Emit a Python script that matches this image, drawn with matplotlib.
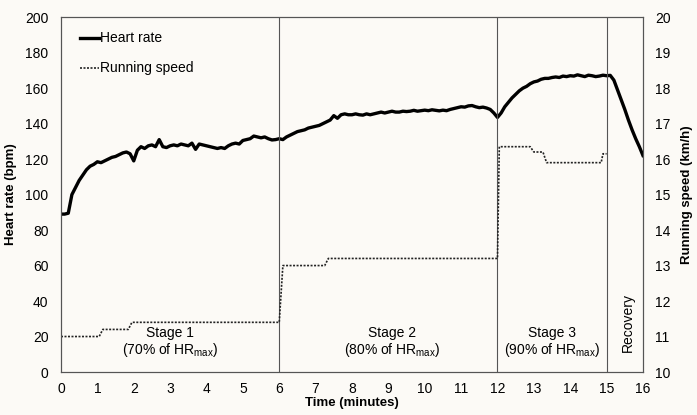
import matplotlib
matplotlib.use("Agg")
import matplotlib.pyplot as plt

plt.rcParams['font.family'] = ['Liberation Sans', 'DejaVu Sans']
plt.rcParams['mathtext.fontset'] = 'custom'
plt.rcParams['mathtext.rm'] = 'Liberation Sans'
plt.rcParams['mathtext.it'] = 'Liberation Sans:italic'

# heart rate sampled every 0.1 min (bpm)
hr_time = [round(i * 0.1, 1) for i in range(161)]
heart_rate = [
    89, 89, 89.5, 100, 104, 108, 111, 114, 116, 117,
    118.5, 118, 119, 120, 121, 121.5, 122.5, 123.5, 124, 123,
    119, 125, 127, 126, 127.5, 128, 127, 131, 127, 126.5,
    127.5, 128, 127.5, 128.5, 128, 127.5, 129, 125.5, 128.5, 128,
    127.5, 127, 126.5, 126, 126.5, 126, 127.5, 128.5, 129, 128.5,
    130.5, 131, 131.5, 133, 132.5, 132, 132.5, 131.5, 130.8, 131,
    131.5, 131, 132.5, 133.5, 134.5, 135.5, 136, 136.5, 137.5, 138,
    138.5, 139, 140, 141, 142, 144.5, 143, 145, 145.5, 145,
    145, 145.5, 145, 144.8, 145.5, 145, 145.5, 146, 146.5, 146,
    146.5, 147, 146.5, 146.5, 147, 146.8, 147, 147.5, 147, 147.3,
    147.6, 147.3, 147.8, 147.5, 147.2, 147.6, 147.3, 148, 148.5, 149,
    149.5, 149.3, 150, 150.2, 149.5, 149, 149.3, 148.8, 148, 146,
    143.5, 146, 149.5, 152, 154.5, 156.5, 158.5, 160, 161, 162.5,
    163.5, 164, 165, 165.5, 165.5, 166, 166.3, 166, 166.8, 166.5,
    167, 166.8, 167.5, 167, 166.5, 167.3, 167, 166.5, 166.8, 167.3,
    167, 167.2, 164.5, 159, 153.5, 148, 142, 136.5, 131.5, 127,
    122,
]

# treadmill speed (km/h)
speed_time = [0, 1.05, 1.15, 1.85, 1.95, 6.0, 6.1, 7.25, 7.35, 12.0, 12.05,
              12.9, 13.0, 13.25, 13.35, 14.85, 14.9, 15.0]
speed = [11.0, 11.0, 11.2, 11.2, 11.4, 11.4, 13.0, 13.0, 13.2, 13.2, 16.35,
         16.35, 16.2, 16.2, 15.9, 15.9, 16.15, 16.15]

stage_bounds = [6, 12, 15]
stage_names = ["Stage 1", "Stage 2", "Stage 3"]
stage_pct = ["70%", "80%", "90%"]
stage_centres = [3.0, 9.1, 13.5]

bg = '#fcfaf6'
fig = plt.figure(figsize=(6.97, 4.15), dpi=100, facecolor=bg)
ax = fig.add_axes([0.0875, 0.1036, 0.835, 0.855], facecolor=bg)
ax2 = ax.twinx()

hr_line, = ax.plot(hr_time, heart_rate, color='black', lw=2.4, label='Heart rate')
sp_line, = ax2.plot(speed_time, speed, color='#222222', lw=1.2,
                    linestyle=(0, (1.2, 0.9)), label='Running speed')

for b in stage_bounds:
    ax.axvline(b, color='#555555', lw=0.8)

for name, pct, c in zip(stage_names, stage_pct, stage_centres):
    ax.text(c, 22, name, ha='center', va='center', fontsize=10)
    ax.text(c, 12.5, '(' + pct + r' of HR$_{\mathrm{max}}$)', ha='center',
            va='center', fontsize=10)
ax.text(15.58, 28, 'Recovery', rotation=90, ha='center', va='center', fontsize=10)

ax.set_xlim(0, 16)
ax.set_ylim(0, 200)
ax2.set_ylim(10, 20)
ax.set_xticks(range(17))
ax.set_yticks(range(0, 201, 20))
ax2.set_yticks(range(10, 21))

for a in (ax, ax2):
    a.tick_params(length=0, labelsize=10)
    for s in a.spines.values():
        s.set_color('#555555')
        s.set_linewidth(0.8)
ax.tick_params(axis='y', pad=9)
ax.tick_params(axis='x', pad=7)
ax2.tick_params(axis='y', pad=9)

ax.set_xlabel('Time (minutes)', fontsize=9.5, fontweight='bold', labelpad=1)
ax.set_ylabel('Heart rate (bpm)', fontsize=9.5, fontweight='bold', labelpad=6)
ax2.set_ylabel('Running speed (km/h)', fontsize=9.5, fontweight='bold', labelpad=7)

ax.legend(handles=[hr_line, sp_line], loc='upper left', bbox_to_anchor=(0.012, 0.995),
          frameon=False, fontsize=10, handlelength=1.3, handletextpad=0.1,
          labelspacing=1.15)

fig.savefig('out.png', dpi=100, facecolor=bg)
